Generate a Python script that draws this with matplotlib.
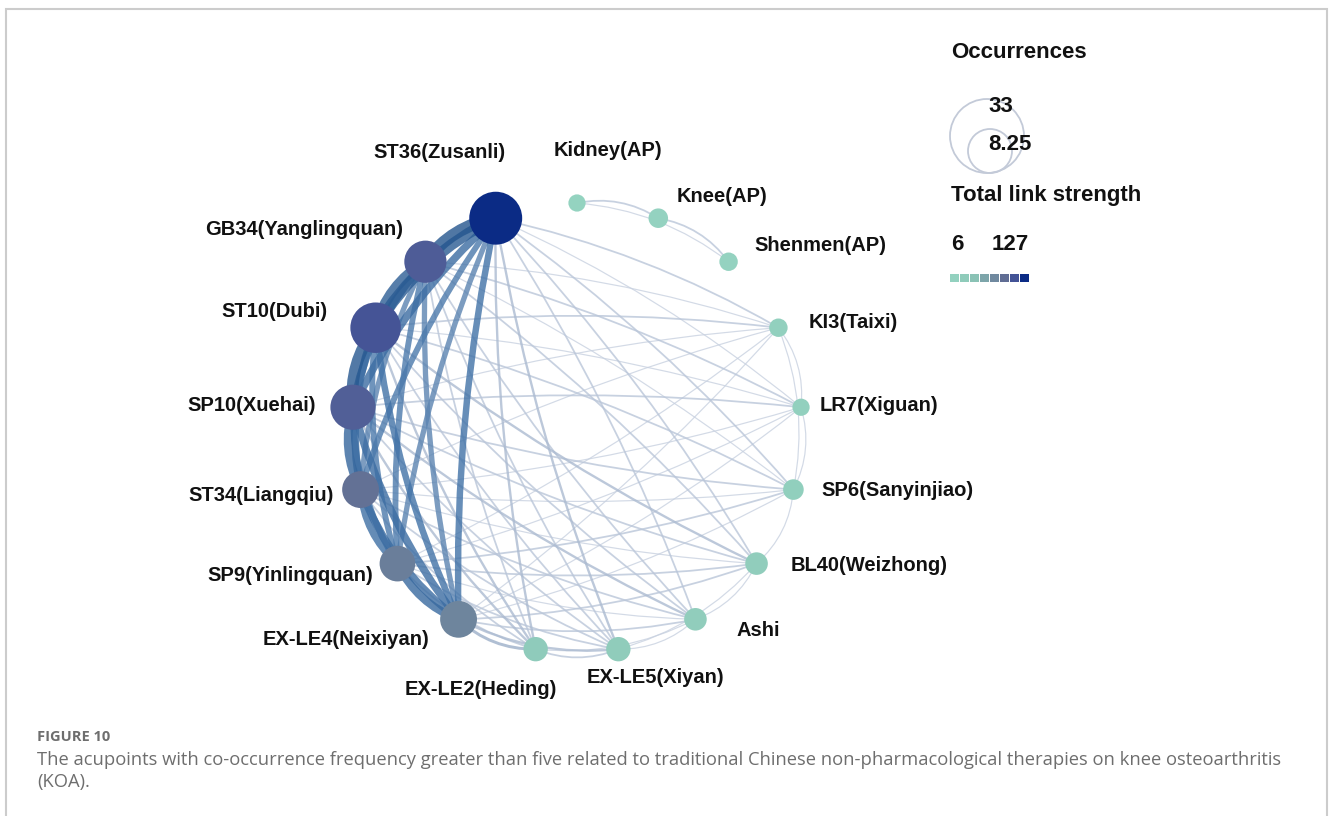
import numpy as np
import matplotlib
matplotlib.use("Agg")
import matplotlib.pyplot as plt
from matplotlib.path import Path
from matplotlib.patches import PathPatch, Circle, Rectangle
from matplotlib.colors import LinearSegmentedColormap, Normalize

# DATA
# -------------------------------
# nodes in circle order, starting at the top and going counterclockwise
names = ["Kidney(AP)", "ST36(Zusanli)", "GB34(Yanglingquan)", "ST10(Dubi)",
         "SP10(Xuehai)", "ST34(Liangqiu)", "SP9(Yinlingquan)", "EX-LE4(Neixiyan)",
         "EX-LE2(Heding)", "EX-LE5(Xiyan)", "Ashi", "BL40(Weizhong)",
         "SP6(Sanyinjiao)", "LR7(Xiguan)", "KI3(Taixi)", "Shenmen(AP)", "Knee(AP)"]
occurrences = [3.5, 33, 21, 30, 24, 16, 15, 16, 7, 7, 6, 6, 5, 3.5, 4, 4, 4.5]
link_strength = [6, 127, 106, 110, 104, 92, 84, 80, 28, 26, 22, 22, 18, 14, 15, 8, 8]

# co-occurrence links (indices into names)
edge_src = [1, 1, 1, 1, 1, 1, 2, 2, 2, 2, 2, 3, 3, 3, 3, 4, 4, 4, 5, 5, 6,
            # core nodes -> small nodes
            1, 2, 3, 4, 5, 6, 7,
            1, 2, 3, 4, 5, 6, 7,
            1, 2, 3, 4, 5, 6, 7,
            1, 2, 3, 4, 5, 6, 7,
            1, 2, 3, 4, 5, 6, 7,
            1, 2, 3, 4, 5, 6, 7,
            1, 2, 3, 4, 5, 6, 7,
            # small nodes among themselves
            8, 9, 8, 14, 13, 12, 14, 11, 9,
            # auricular points
            0, 16, 0]
edge_dst = [2, 3, 4, 5, 6, 7, 3, 4, 5, 6, 7, 4, 5, 6, 7, 5, 6, 7, 6, 7, 7,
            8, 8, 8, 8, 8, 8, 8,
            9, 9, 9, 9, 9, 9, 9,
            10, 10, 10, 10, 10, 10, 10,
            11, 11, 11, 11, 11, 11, 11,
            12, 12, 12, 12, 12, 12, 12,
            13, 13, 13, 13, 13, 13, 13,
            14, 14, 14, 14, 14, 14, 14,
            9, 10, 10, 13, 12, 11, 12, 10, 11,
            16, 15, 15]
edge_w = [20, 18, 12, 9, 8, 10, 17, 12, 8, 9, 8, 19, 12, 9, 10, 14, 10, 12, 11, 12, 13,
          3, 2, 3, 3, 2, 2, 4,
          3, 2, 2, 2, 2, 2, 3,
          2, 2, 2, 3, 2, 1, 2,
          2, 2, 3, 2, 1, 2, 2,
          2, 1, 2, 2, 1, 2, 1,
          1, 2, 1, 2, 1, 1, 1,
          2, 1, 2, 1, 1, 1, 1,
          2, 1, 1, 1, 1, 1, 1, 1, 1,
          2, 2, 1]

legend_sizes = ["33", "8.25"]
strength_range = [6, 127]

# LAYOUT (pixel coordinates)
# -------------------------------
cx, cy, R = 577, 428, 225
# label offset from node centre (dx, dy, ha)
label_pos = [(31, -53, "center"), (-56, -66, "center"), (-22, -32, "right"),
             (-48, -16, "right"), (-37, -2, "right"), (-27, 6, "right"),
             (-24, 12, "right"), (-29, 20, "right"), (-55, 40, "center"),
             (37, 28, "center"), (41, 11, "left"), (34, 2, "left"),
             (28, 1, "left"), (19, -2, "left"), (30, -5, "left"),
             (26, -16, "left"), (64, -22, "center")]

n = len(names)
ang = np.pi / 2 + np.arange(n) * 2 * np.pi / n
xs = cx + R * np.cos(ang)
ys = cy - R * np.sin(ang)

node_cmap = LinearSegmentedColormap.from_list(
    "tls", [(0.0, "#94d3c0"), (0.3, "#8cc6b7"), (0.55, "#7592a2"),
            (0.72, "#626f94"), (0.85, "#4a5898"), (1.0, "#0b2b85")])
edge_cmap = LinearSegmentedColormap.from_list(
    "lnk", [(0.0, "#c8d1e0"), (0.15, "#9fb0ca"), (0.45, "#4273a8"), (1.0, "#24558e")])
tnorm = Normalize(strength_range[0], strength_range[1])
wnorm = Normalize(1, 20)

fig = plt.figure(figsize=(13.3, 8.16), dpi=100)
ax = fig.add_axes([0, 0, 1, 1])
ax.set_xlim(0, 1330)
ax.set_ylim(816, 0)
ax.axis("off")

# frame
ax.plot([5.5, 5.5, 1327, 1327], [816, 8.5, 8.5, 816], color="#cccccc", lw=1.5,
        solid_joinstyle="miter")

# links, light ones first, slightly bent outward
order = np.argsort(edge_w, kind="stable")
for k in order:
    a, b, w = edge_src[k], edge_dst[k], edge_w[k]
    p0 = np.array([xs[a], ys[a]])
    p1 = np.array([xs[b], ys[b]])
    mid = (p0 + p1) / 2
    d = p1 - p0
    L = np.hypot(*d)
    nrm = np.array([-d[1], d[0]]) / L
    if np.dot(nrm, mid - np.array([cx, cy])) < 0:
        nrm = -nrm
    ctrl = mid + nrm * 2 * min(0.1 * L, 12)
    path = Path([p0, ctrl, p1], [Path.MOVETO, Path.CURVE3, Path.CURVE3])
    ax.add_patch(PathPatch(path, fc="none", ec=edge_cmap(wnorm(w)),
                           lw=0.45 + 0.42 * w, alpha=0.8, zorder=2,
                           capstyle="round"))

# nodes
ax.scatter(xs, ys, s=np.array(occurrences) * 44, c=node_cmap(tnorm(link_strength)),
           linewidths=0, zorder=3)

lab_font = dict(family="Liberation Sans", weight="bold", color="#111111")
for i in range(n):
    dx, dy, ha = label_pos[i]
    ax.text(xs[i] + dx, ys[i] + dy, names[i], ha=ha, va="center", fontsize=14.5,
            **lab_font)

# legend
ax.text(951, 52, "Occurrences", ha="left", va="center", fontsize=16, **lab_font)
ax.add_patch(Circle((987, 136), 37, fc="none", ec="#c3cad8", lw=1.3))
ax.add_patch(Circle((990, 151), 22, fc="none", ec="#c3cad8", lw=1.3))
ax.text(988, 107, legend_sizes[0], ha="left", va="center", fontsize=16, **lab_font)
ax.text(988, 145, legend_sizes[1], ha="left", va="center", fontsize=16, **lab_font)
ax.text(951, 195, "Total link strength", ha="left", va="center", fontsize=16, **lab_font)
ax.text(951, 245, str(strength_range[0]), ha="left", va="center", fontsize=16, **lab_font)
ax.text(992, 245, str(strength_range[1]), ha="left", va="center", fontsize=16, **lab_font)
for j, v in enumerate(np.linspace(0.05, 1, 8)):
    ax.add_patch(Rectangle((950 + j * 10, 274), 9, 8, fc=node_cmap(v), ec="none"))

# caption
ax.text(37, 737, "FIGURE 10", ha="left", va="center", fontsize=10.5,
        family="Open Sans", weight="bold", color="#6e6e6e")
ax.text(37, 760, "The acupoints with co-occurrence frequency greater than five related to "
        "traditional Chinese non-pharmacological therapies on knee osteoarthritis",
        ha="left", va="center", fontsize=13.2, family="Open Sans", color="#6e6e6e")
ax.text(37, 782, "(KOA).", ha="left", va="center", fontsize=13.2, family="Open Sans",
        color="#6e6e6e")

plt.savefig("out.png", dpi=100)
